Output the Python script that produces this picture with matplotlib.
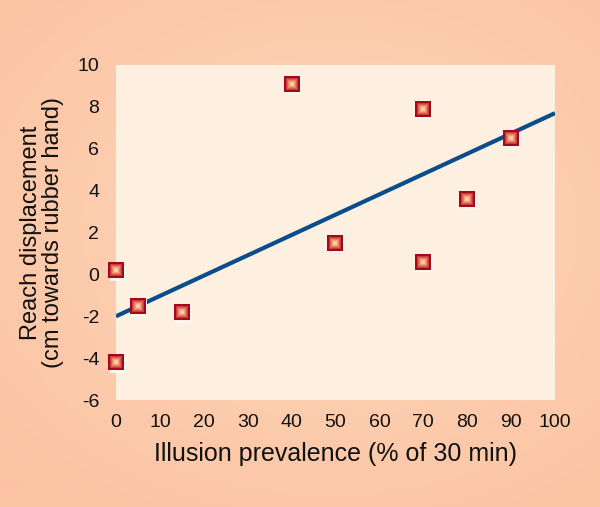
import numpy as np
import matplotlib
matplotlib.use("Agg")
import matplotlib.pyplot as plt

plt.rcParams['font.family'] = ['Liberation Sans', 'DejaVu Sans']
plt.rcParams['axes.unicode_minus'] = False

# data
prevalence = [0, 0, 5, 15, 40, 50, 70, 70, 80, 90]
displacement = [0.2, -4.2, -1.5, -1.8, 9.1, 1.5, 7.9, 0.6, 3.6, 6.5]

fit_x = [0, 100]
fit_y = [-2.0, 7.7]

x_ticks = list(range(0, 101, 10))
y_ticks = list(range(-6, 11, 2))

fig = plt.figure(figsize=(6.0, 5.07), dpi=100)
fig.patch.set_facecolor('#fcc9a9')

# soft glow in the peach background
bg = fig.add_axes([0, 0, 1, 1], zorder=-10)
yy, xx = np.mgrid[0:1:300j, 0:1:360j]
r = np.sqrt((xx - 0.55) ** 2 + ((yy - 0.45) * 1.1) ** 2)
glow = np.clip(1 - r / 0.75, 0, 1)
c0 = np.array([251, 196, 163]) / 255
c1 = np.array([254, 214, 186]) / 255
img = c0 + (c1 - c0) * glow[..., None]
bg.imshow(img, extent=[0, 1, 0, 1], aspect='auto')
bg.axis('off')

ax = fig.add_axes([0.1933, 0.211, 0.7317, 0.6608])
ax.set_facecolor('#fdf0e0')
for s in ax.spines.values():
    s.set_visible(False)

ax.plot(fit_x, fit_y, color='#0b4c8a', lw=3, solid_capstyle='butt', zorder=2)

# squares with a light centre, built up in layers
ax.plot([p + 0.35 for p in prevalence], [d - 0.12 for d in displacement], 's',
        ms=12.0, color='#fff6ee', mew=0, clip_on=False, zorder=3)
layers = [(12.0, '#a00a1c'), (8.6, '#c93a3c'), (7.0, '#dc5c48'),
          (5.4, '#e98060'), (3.8, '#f2a07c'), (2.2, '#f8c4a4'), (1.0, '#fde6d6')]
for ms, col in layers:
    ax.plot(prevalence, displacement, 's', ms=ms, color=col, mew=0,
            clip_on=False, zorder=3)

ax.set_xlim(0, 100)
ax.set_ylim(-6, 10)
ax.set_xticks(x_ticks)
ax.set_yticks(y_ticks)
ax.tick_params(length=0, labelsize=14, pad=10, colors='#111111')
ax.tick_params(axis='y', pad=12)

ax.set_xlabel('Illusion prevalence (% of 30 min)', fontsize=18, labelpad=8,
              color='#111111')
ax.set_ylabel('Reach displacement\n(cm towards rubber hand)', fontsize=17,
              labelpad=10, color='#111111', linespacing=1.0)

fig.savefig('out.png', dpi=100, facecolor=fig.get_facecolor())
